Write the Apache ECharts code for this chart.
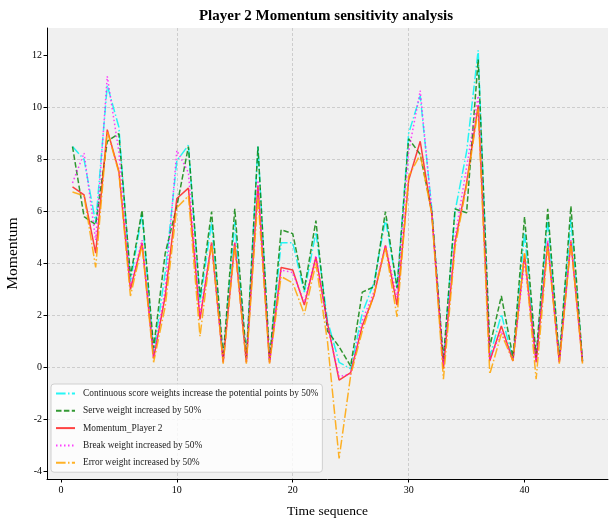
<!DOCTYPE html>
<html>
<head>
<meta charset="utf-8">
<script src="https://cdn.jsdelivr.net/npm/echarts@6/dist/echarts.min.js"></script>
<style>
  html, body { margin: 0; padding: 0; background: #fff; }
  #chart { width: 610px; height: 519px; }
</style>
</head>
<body>
<div id="chart"></div>
<script>
// time sequence 1..45
const timeSeq = [1,2,3,4,5,6,7,8,9,10,11,12,13,14,15,16,17,18,19,20,21,22,23,24,25,26,27,28,29,30,31,32,33,34,35,36,37,38,39,40,41,42,43,44,45]

const continuousScore = [8.5,8.0,5.55,10.85,9.25,3.3,5.9,0.55,3.65,7.95,8.55,2.5,5.6,0.3,5.6,0.3,8.5,0.3,4.8,4.8,2.9,5.2,1.8,0.2,-0.05,2.1,3.25,5.7,3.1,9.0,10.45,6.1,0.2,6.0,8.3,12.2,0.4,2.05,0.3,5.2,0.3,5.7,0.3,5.7,0.25]
const serveWeight = [8.5,5.8,5.5,8.7,9.0,3.5,6.05,0.75,4.4,6.2,8.5,2.7,6.0,0.4,6.1,0.4,8.5,0.3,5.3,5.15,3.0,5.65,1.4,0.8,0.05,2.9,3.1,6.0,3.05,8.8,8.2,6.0,0.3,6.1,5.95,11.85,0.8,2.75,0.4,5.8,0.4,6.1,0.3,6.2,0.25]
const momentum = [6.95,6.64,4.4,9.15,7.55,3.0,4.8,0.35,2.75,6.5,6.9,1.85,4.8,0.2,4.8,0.2,7.0,0.2,3.85,3.75,2.4,4.25,1.7,-0.49,-0.2,1.6,2.75,4.7,2.4,7.2,8.7,5.9,-0.05,4.8,7.1,10.08,0.25,1.6,0.25,4.35,0.2,4.8,0.2,4.85,0.2]
const breakWeight = [7.1,8.25,4.9,11.2,8.3,3.1,4.9,0.4,3.0,8.35,7.5,2.0,4.8,0.2,4.8,0.2,7.2,0.2,3.75,3.65,2.5,4.3,1.6,-0.35,-0.25,1.8,2.9,4.7,2.7,8.3,10.65,6.0,0.1,5.0,7.7,10.45,0.3,1.4,0.25,4.1,0.2,4.9,0.2,4.9,0.2]
const errorWeight = [6.75,6.6,3.85,9.1,7.5,2.75,4.7,0.2,2.35,6.15,6.6,1.2,4.8,0.15,4.7,0.15,6.55,0.15,3.5,3.25,2.05,4.0,1.0,-3.5,-0.3,1.4,2.8,4.6,1.95,7.35,8.2,5.9,-0.45,4.6,7.0,9.95,-0.25,1.3,0.25,4.4,-0.45,4.7,0.15,4.8,0.15]

const seriesNames = [
	'Continuous score weights increase the potential points by 50%',
	'Serve weight increased by 50%',
	'Momentum_Player 2',
	'Break weight increased by 50%',
	'Error weight increased by 50%',
]
const seriesValues = [continuousScore, serveWeight, momentum, breakWeight, errorWeight]
const seriesColors = ['rgba(0,245,245,0.85)', 'rgba(0,128,0,0.8)', 'rgba(255,20,20,0.8)', 'rgba(255,0,255,0.75)', 'rgba(255,165,0,0.85)']
const seriesDash = [[9.6,2.4,1.5,2.4], [5.5,2.4], 'solid', [1.5,2.5], [9.6,2.4,1.5,2.4]]

const xTicks = [0, 10, 20, 30, 40]
const yTicks = [-4, -2, 0, 2, 4, 6, 8, 10, 12]

const serif = '"Liberation Serif", "Times New Roman", serif'

const myChart = echarts.init(document.getElementById('chart'))

const gridLine = { show: true, showMinLine: false, showMaxLine: false, lineStyle: { color: '#c4c4c4', type: [3, 2], width: 0.8 } }

const option = {
	animation: false,
	backgroundColor: '#ffffff',
	title: {
		text: 'Player 2 Momentum sensitivity analysis',
		left: 326,
		top: 9,
		padding: 0,
		textAlign: 'center',
		textStyle: { fontFamily: serif, fontWeight: 'bold', fontSize: 15, color: '#000' },
	},
	grid: {
		left: 47, right: 2, top: 28, bottom: 40,
		outerBoundsMode: 'none',
		show: true, backgroundColor: '#f0f0f0', borderWidth: 0,
	},
	legend: {
		orient: 'vertical',
		left: 51,
		top: 384,
		padding: [5, 4, 5, 4],
		itemGap: 8.3,
		itemWidth: 19,
		itemHeight: 9,
		backgroundColor: 'rgba(255,255,255,0.8)',
		borderColor: '#d0d0d0',
		borderWidth: 1,
		borderRadius: 3,
		itemStyle: { opacity: 0 },
		textStyle: { fontFamily: serif, fontSize: 9.4, color: '#222', padding: [0, 0, 0, 3] },
		data: seriesNames,
	},
	xAxis: {
		type: 'value',
		min: -1.2,
		max: 47.2,
		minInterval: 10,
		maxInterval: 10,
		name: 'Time sequence',
		nameLocation: 'middle',
		nameGap: 25,
		nameTextStyle: { fontFamily: serif, fontSize: 13.5, color: '#000' },
		axisLine: { show: true, onZero: false, lineStyle: { color: '#000', width: 1 } },
		axisTick: { show: true, length: 3.5, customValues: xTicks, lineStyle: { color: '#000' } },
		axisLabel: { customValues: xTicks, margin: 6, fontFamily: serif, fontSize: 10, color: '#000' },
		splitLine: gridLine,
	},
	yAxis: {
		type: 'value',
		min: -4.29,
		max: 13.06,
		minInterval: 2,
		maxInterval: 2,
		name: 'Momentum',
		nameLocation: 'middle',
		nameGap: 21,
		nameTextStyle: { fontFamily: serif, fontSize: 15.5, color: '#000' },
		axisLine: { show: true, onZero: false, lineStyle: { color: '#000', width: 1 } },
		axisTick: { show: true, length: 3.5, customValues: yTicks, lineStyle: { color: '#000' } },
		axisLabel: { customValues: yTicks, margin: 5, fontFamily: serif, fontSize: 10, color: '#000' },
		splitLine: gridLine,
	},
	series: seriesNames.map((name, i) => ({
		name: name,
		type: 'line',
		symbol: 'none',
		data: timeSeq.map((t, j) => [t, seriesValues[i][j]]),
		lineStyle: { color: seriesColors[i], width: 1.5, type: seriesDash[i] },
		itemStyle: { color: seriesColors[i] },
	})),
}

myChart.setOption(option)
</script>
</body>
</html>
